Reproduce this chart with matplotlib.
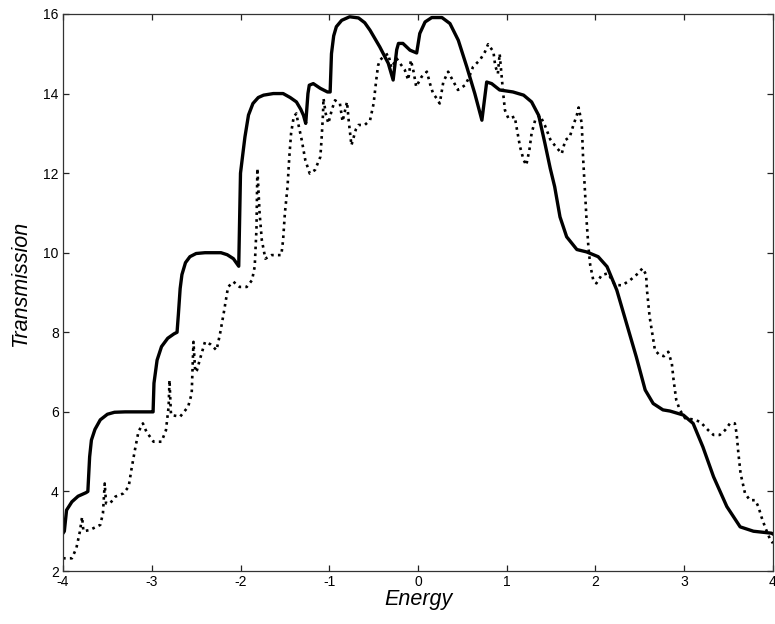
"""Transmission vs. energy: clean (solid) and disordered (dotted) wire.

Saves out.png (775x624).
"""

import matplotlib

matplotlib.use("Agg")
import matplotlib.pyplot as plt

# solid curve: quantised steps
ENERGY_CLEAN = [
    -4.0, -3.985, -3.96, -3.90, -3.83, -3.74, -3.72, -3.70, -3.68, -3.64,
    -3.58, -3.50, -3.42, -3.30, -3.0, -2.985, -2.975, -2.94, -2.89, -2.82,
    -2.75, -2.715, -2.70, -2.68, -2.66, -2.62, -2.57, -2.50, -2.40, -2.22,
    -2.15, -2.08, -2.02, -2.00, -1.97, -1.95, -1.91, -1.86, -1.80, -1.74,
    -1.63, -1.52, -1.44, -1.37, -1.32, -1.29, -1.265, -1.24, -1.225, -1.18,
    -1.10, -1.02, -0.99, -0.975, -0.95, -0.92, -0.86, -0.77, -0.67, -0.60,
    -0.54, -0.43, -0.335, -0.28, -0.24, -0.22, -0.17, -0.09, -0.015, 0.02,
    0.08, 0.155, 0.27, 0.36, 0.454, 0.55, 0.64, 0.72, 0.774, 0.83,
    0.92, 1.07, 1.19, 1.28, 1.36, 1.43, 1.49, 1.54, 1.60, 1.675,
    1.79, 1.90, 2.03, 2.13, 2.24, 2.35, 2.46, 2.56, 2.65, 2.76,
    2.84, 2.99, 3.10, 3.21, 3.33, 3.48, 3.63, 3.78, 3.985, 4.0,
]
TRANS_CLEAN = [
    2.95, 3.0, 3.53, 3.74, 3.88, 3.97, 4.0, 4.87, 5.29, 5.56,
    5.80, 5.94, 5.99, 6.0, 6.0, 6.0, 6.72, 7.30, 7.64, 7.85,
    7.96, 8.0, 8.45, 9.1, 9.45, 9.75, 9.90, 9.98, 10.0, 10.0,
    9.95, 9.85, 9.66, 12.0, 12.55, 12.91, 13.46, 13.75, 13.9, 13.96,
    14.0, 14.0, 13.9, 13.79, 13.6, 13.45, 13.25, 14.0, 14.21, 14.25,
    14.13, 14.04, 14.04, 15.0, 15.45, 15.68, 15.84, 15.93, 15.9, 15.78,
    15.59, 15.17, 14.76, 14.34, 15.1, 15.26, 15.26, 15.09, 15.02, 15.51,
    15.80, 15.91, 15.91, 15.76, 15.34, 14.67, 14.0, 13.33, 14.29, 14.25,
    14.09, 14.04, 13.96, 13.79, 13.45, 12.75, 12.12, 11.66, 10.90, 10.40,
    10.08, 10.02, 9.90, 9.65, 9.06, 8.22, 7.38, 6.55, 6.21, 6.05,
    6.02, 5.92, 5.71, 5.12, 4.37, 3.62, 3.11, 3.0, 2.95, 2.93,
]

# dotted curve: with disorder
ENERGY_DIS = [
    -4.0, -3.90, -3.85, -3.81, -3.785, -3.77, -3.70, -3.58, -3.55, -3.53,
    -3.515, -3.47, -3.41, -3.32, -3.26, -3.23, -3.19, -3.15, -3.10, -3.06,
    -2.98, -2.89, -2.84, -2.81, -2.80, -2.785, -2.78, -2.68, -2.59, -2.55,
    -2.54, -2.53, -2.51, -2.49, -2.46, -2.40, -2.34, -2.27, -2.23, -2.19,
    -2.14, -2.08, -2.01, -1.93, -1.87, -1.84, -1.82, -1.81, -1.785, -1.76,
    -1.72, -1.65, -1.54, -1.52, -1.50, -1.47, -1.45, -1.43, -1.40, -1.37,
    -1.35, -1.31, -1.27, -1.22, -1.16, -1.10, -1.085, -1.07, -1.065, -1.04,
    -1.01, -0.97, -0.935, -0.88, -0.85, -0.80, -0.78, -0.75, -0.70, -0.67,
    -0.60, -0.54, -0.50, -0.47, -0.45, -0.43, -0.37, -0.335, -0.30, -0.24,
    -0.20, -0.15, -0.11, -0.08, -0.05, -0.02, 0.04, 0.10, 0.135, 0.17,
    0.21, 0.245, 0.285, 0.34, 0.38, 0.45, 0.53, 0.57, 0.62, 0.70,
    0.755, 0.79, 0.85, 0.87, 0.90, 0.92, 0.96, 0.98, 1.02, 1.09,
    1.11, 1.15, 1.19, 1.22, 1.255, 1.28, 1.32, 1.375, 1.43, 1.49,
    1.54, 1.62, 1.66, 1.71, 1.75, 1.79, 1.81, 1.845, 1.86, 1.88,
    1.90, 1.92, 1.94, 1.975, 2.01, 2.07, 2.14, 2.22, 2.30, 2.39,
    2.48, 2.53, 2.57, 2.58, 2.61, 2.645, 2.67, 2.72, 2.77, 2.82,
    2.86, 2.88, 2.91, 2.95, 3.01, 3.10, 3.18, 3.27, 3.33, 3.40,
    3.46, 3.515, 3.57, 3.59, 3.61, 3.635, 3.685, 3.74, 3.80, 3.835,
    3.87, 3.91, 3.97, 4.0,
]
TRANS_DIS = [
    2.32, 2.32, 2.57, 2.99, 3.36, 3.0, 3.03, 3.16, 3.45, 4.20,
    3.7, 3.70, 3.87, 3.95, 4.12, 4.54, 5.04, 5.50, 5.71, 5.50,
    5.25, 5.25, 5.54, 6.13, 6.80, 6.0, 5.92, 5.88, 6.13, 6.46,
    7.13, 7.76, 7.0, 7.05, 7.30, 7.76, 7.7, 7.55, 7.97, 8.47,
    9.14, 9.27, 9.14, 9.14, 9.31, 9.65, 10.6, 12.12, 11.0, 10.32,
    9.85, 9.94, 9.94, 10.32, 10.99, 11.66, 12.41, 13.0, 13.42, 13.50,
    13.25, 12.83, 12.33, 11.99, 12.08, 12.41, 12.91, 13.5, 13.88, 13.5,
    13.25, 13.6, 13.83, 13.75, 13.3, 13.79, 13.3, 12.70, 13.1, 13.21,
    13.21, 13.33, 13.75, 14.35, 14.7, 14.84, 14.96, 15.0, 14.65, 14.88,
    14.75, 14.6, 14.34, 14.84, 14.55, 14.17, 14.42, 14.55, 14.25, 14.0,
    13.88, 13.75, 14.29, 14.55, 14.38, 14.09, 14.21, 14.38, 14.67, 14.85,
    15.05, 15.24, 15.05, 14.7, 14.5, 15.0, 14.0, 13.58, 13.37, 13.42,
    13.16, 12.66, 12.33, 12.20, 12.58, 13.0, 13.33, 13.45, 13.2, 12.85,
    12.70, 12.49, 12.83, 12.91, 13.2, 13.46, 13.65, 13.25, 12.4, 11.6,
    10.8, 10.15, 9.70, 9.31, 9.23, 9.44, 9.48, 9.19, 9.18, 9.31,
    9.48, 9.61, 9.45, 9.06, 8.39, 7.89, 7.55, 7.43, 7.40, 7.51,
    7.22, 6.80, 6.30, 6.05, 5.84, 5.81, 5.75, 5.54, 5.42, 5.42,
    5.54, 5.71, 5.71, 5.46, 4.96, 4.45, 3.95, 3.78, 3.78, 3.62,
    3.36, 3.11, 2.78, 2.7,
]

X_TICKS = [-4, -3, -2, -1, 0, 1, 2, 3, 4]
Y_TICKS = [2, 4, 6, 8, 10, 12, 14, 16]

plt.rcParams["font.family"] = ["Liberation Sans", "DejaVu Sans"]
plt.rcParams["axes.unicode_minus"] = False


def main():
    fig = plt.figure(figsize=(7.75, 6.24), dpi=100)
    ax = fig.add_axes([0.0813, 0.0849, 0.9161, 0.8927])

    ax.plot(ENERGY_CLEAN, TRANS_CLEAN, color="black", lw=2.4,
            solid_joinstyle="round")
    ax.plot(ENERGY_DIS, TRANS_DIS, color="black", lw=1.9,
            linestyle=(0, (1, 1.6)))

    ax.set_xlim(-4, 4)
    ax.set_ylim(2, 16)
    ax.set_xticks(X_TICKS)
    ax.set_yticks(Y_TICKS)
    ax.tick_params(direction="in", top=True, right=True, length=4.5,
                   width=0.9, labelsize=10, color="#222222", pad=3)
    for sp in ax.spines.values():
        sp.set_linewidth(0.9)
        sp.set_color("#333333")

    ax.set_xlabel("Energy", fontsize=15.5, style="italic", labelpad=0)
    ax.set_ylabel("Transmission", fontsize=15.5, style="italic")
    ax.yaxis.set_label_coords(-0.045, 0.515)

    fig.savefig("out.png", dpi=100)
    plt.close(fig)


if __name__ == "__main__":
    main()
